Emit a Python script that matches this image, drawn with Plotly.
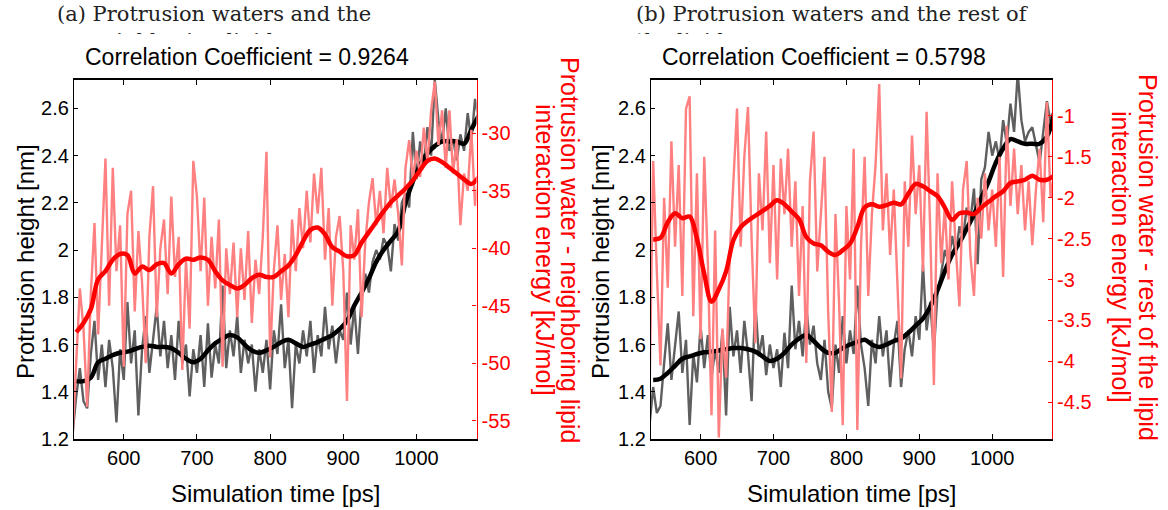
import plotly.graph_objects as go

# ---------------- data ----------------
t_raw_start, t_raw_step = 530, 5
t_avg_start, t_avg_step = 535, 10

# (a) protrusion height, raw (nm)
a_height_raw = [1.22, 1.38, 1.50, 1.36, 1.33, 1.56, 1.70, 1.45, 1.60, 1.42, 1.62, 1.50, 1.27, 1.58, 1.45, 1.78,
                1.52, 1.66, 1.30, 1.58, 1.72, 1.48, 1.62, 1.76, 1.55, 1.70, 1.50, 1.64, 1.45, 1.70, 1.52, 1.60,
                1.38, 1.58, 1.48, 1.64, 1.42, 1.69, 1.46, 1.60, 1.52, 1.85, 1.50, 1.66, 1.55, 1.72, 1.48, 1.62,
                1.52, 1.60, 1.40, 1.58, 1.48, 1.62, 1.41, 1.66, 1.56, 1.77, 1.50, 1.62, 1.33, 1.60, 1.52, 1.66,
                1.55, 1.70, 1.48, 1.64, 1.55, 1.76, 1.58, 1.68, 1.52, 1.66, 1.62, 1.82, 1.60, 1.76, 1.56, 1.80,
                1.90, 1.82, 1.95, 2.00, 1.96, 2.05, 2.02, 1.91, 2.11, 2.04, 2.20, 2.24, 2.18, 2.50, 2.30, 2.46,
                2.36, 2.52, 2.40, 2.72, 2.55, 2.45, 2.60, 2.42, 2.47, 2.38, 2.49, 2.42, 2.58, 2.46, 2.64, 2.55]
# (a) protrusion height, running average (nm)
a_height_avg = [1.445, 1.445, 1.46, 1.525, 1.54, 1.555, 1.565, 1.57, 1.58, 1.59, 1.595, 1.59, 1.59, 1.585,
                1.565, 1.54, 1.525, 1.54, 1.575, 1.605, 1.625, 1.64, 1.63, 1.60, 1.575, 1.565, 1.575, 1.59,
                1.61, 1.62, 1.605, 1.59, 1.60, 1.61, 1.625, 1.64, 1.665, 1.70, 1.765, 1.82, 1.88, 1.95, 2.00,
                2.04, 2.08, 2.20, 2.29, 2.36, 2.41, 2.44, 2.46, 2.46, 2.46, 2.45, 2.51, 2.57]
# (a) interaction energy with neighbouring lipid, raw (kJ/mol)
a_energy_raw = [-56.5, -50.0, -43.5, -47.0, -53.8, -44.0, -37.8, -47.5, -40.0, -32.2, -45.0, -33.0, -42.0, -38.0,
                -50.3, -37.0, -35.0, -45.5, -38.5, -43.0, -50.0, -39.0, -34.6, -46.0, -40.0, -37.5, -44.0, -35.5,
                -42.5, -39.0, -50.6, -41.0, -47.0, -32.4, -35.5, -42.0, -35.6, -45.0, -39.0, -43.5, -37.5, -50.3,
                -40.0, -44.0, -39.5, -46.0, -40.0, -44.5, -38.5, -46.5, -41.0, -44.0, -39.0, -31.6, -49.5, -42.0,
                -38.0, -44.5, -40.5, -46.0, -37.5, -42.0, -36.5, -40.0, -35.0, -39.5, -33.5, -37.0, -33.0, -41.0,
                -36.5, -45.0, -39.0, -37.2, -42.0, -53.3, -38.0, -41.0, -36.6, -46.0, -39.5, -36.0, -33.9, -38.0,
                -35.0, -38.7, -33.0, -36.5, -34.0, -37.0, -41.5, -33.0, -30.6, -34.0, -31.5, -33.8, -29.5, -32.5,
                -28.0, -25.5, -31.0, -28.0, -33.0, -28.0, -33.5, -30.5, -38.0, -33.5, -35.0, -29.7, -36.3, -34.0]
# (a) interaction energy, running average (kJ/mol)
a_energy_avg = [-47.3, -46.5, -45.3, -42.7, -42.0, -41.0, -40.5, -40.6, -42.2, -41.6, -41.9, -41.4, -41.3, -42.2,
                -41.4, -40.9, -41.0, -40.8, -41.0, -42.0, -42.8, -43.2, -43.5, -43.2, -42.6, -42.3, -42.5, -42.5,
                -42.0, -41.5, -40.6, -39.4, -38.4, -38.2, -38.8, -39.9, -40.3, -40.7, -40.6, -39.5, -38.6, -37.7,
                -36.8, -36.0, -35.4, -34.8, -34.1, -33.2, -32.4, -32.2, -32.5, -33.0, -33.5, -34.0, -34.4, -33.8]

# (b) protrusion height, raw (nm)
b_height_raw = [1.26, 1.42, 1.31, 1.34, 1.52, 1.69, 1.45, 1.60, 1.74, 1.48, 1.62, 1.26, 1.56, 1.44, 1.68, 1.50,
                1.64, 1.46, 1.58, 1.48, 1.66, 1.30, 1.76, 1.55, 1.66, 1.48, 1.70, 1.56, 1.36, 1.78, 1.55, 1.64,
                1.47, 1.60, 1.50, 1.58, 1.42, 1.65, 1.50, 1.85, 1.58, 1.70, 1.55, 1.76, 1.60, 1.68, 1.52, 1.45,
                1.62, 1.40, 1.33, 1.60, 1.48, 1.72, 1.52, 1.66, 1.56, 1.85, 1.60, 1.50, 1.34, 1.62, 1.52, 1.72,
                1.55, 1.66, 1.42, 1.60, 1.70, 1.42, 1.58, 1.66, 1.55, 1.72, 1.62, 1.94, 1.66, 1.78, 1.57, 1.82,
                1.90, 2.00, 1.95, 2.06, 1.98, 2.10, 2.05, 2.18, 2.12, 2.26, 1.94, 2.30, 2.35, 2.50, 2.40, 2.46,
                2.38, 2.55, 2.45, 2.62, 2.50, 2.75, 2.55, 2.46, 2.50, 2.52, 2.44, 2.37, 2.50, 2.63, 2.54, 2.60]
b_height_avg = [1.45, 1.455, 1.48, 1.51, 1.54, 1.55, 1.56, 1.567, 1.57, 1.575, 1.58, 1.585, 1.585, 1.58, 1.57,
                1.55, 1.53, 1.54, 1.565, 1.60, 1.625, 1.64, 1.615, 1.585, 1.565, 1.565, 1.585, 1.60, 1.61, 1.62,
                1.60, 1.59, 1.60, 1.615, 1.625, 1.65, 1.68, 1.71, 1.76, 1.83, 1.91, 1.98, 2.03, 2.09, 2.15, 2.22,
                2.29, 2.37, 2.43, 2.47, 2.46, 2.45, 2.45, 2.45, 2.48, 2.58]
# (b) interaction energy with the rest of the lipid, raw (kJ/mol)
b_energy_raw = [-4.40, -1.55, -2.90, -4.05, -2.00, -3.10, -1.31, -2.60, -1.60, -3.20, -0.91, -0.76, -3.45, -1.70,
                -3.73, -1.50, -2.80, -4.66, -2.40, -4.93, -3.60, -4.20, -2.70, -1.80, -0.91, -2.60, -1.50, -0.89,
                -2.50, -3.78, -1.70, -2.40, -1.19, -2.80, -1.60, -3.00, -1.52, -2.20, -1.40, -2.60, -1.80, -3.20,
                -2.10, -4.02, -1.80, -1.19, -2.90, -2.20, -1.50, -3.40, -4.62, -2.20, -3.30, -4.78, -2.10, -3.00,
                -1.40, -4.84, -2.60, -1.50, -3.20, -2.20, -1.60, -0.61, -2.40, -1.70, -2.70, -1.90, -3.10, -4.21,
                -1.80, -2.60, -1.24, -2.20, -1.60, -2.90, -0.95, -2.40, -4.29, -1.70, -2.80, -2.10, -3.00, -1.80,
                -2.60, -3.33, -1.90, -1.55, -2.70, -3.20, -2.00, -2.50, -1.70, -2.40, -1.90, -2.60, -1.50, -2.97,
                -1.12, -2.10, -1.40, -2.20, -1.60, -2.40, -1.80, -2.58, -1.90, -1.40, -2.30, -0.83, -2.00, -1.70]
b_energy_avg = [-2.51, -2.49, -2.30, -2.19, -2.25, -2.23, -2.50, -2.93, -3.27, -3.12, -2.90, -2.52, -2.36, -2.28,
                -2.22, -2.16, -2.10, -2.03, -2.08, -2.17, -2.26, -2.48, -2.56, -2.58, -2.66, -2.70, -2.64, -2.56,
                -2.36, -2.12, -2.08, -2.11, -2.09, -2.06, -2.08, -1.95, -1.83, -1.86, -1.92, -1.98, -2.12, -2.27,
                -2.19, -2.18, -2.20, -2.12, -2.05, -1.98, -1.92, -1.82, -1.80, -1.78, -1.73, -1.78, -1.78, -1.73]

x_ticks = [600, 700, 800, 900, 1000]
h_ticks = [1.2, 1.4, 1.6, 1.8, 2.0, 2.2, 2.4, 2.6]
h_ticktext = ["1.2", "1.4", "1.6", "1.8", "2", "2.2", "2.4", "2.6"]
a_e_ticks = [-55, -50, -45, -40, -35, -30]
a_e_ticktext = ["-55", "-50", "-45", "-40", "-35", "-30"]
b_e_ticks = [-4.5, -4, -3.5, -3, -2.5, -2, -1.5, -1]
b_e_ticktext = ["-4.5", "-4", "-3.5", "-3", "-2.5", "-2", "-1.5", "-1"]

corr_a = "Correlation Coefficient = 0.9264"
corr_b = "Correlation Coefficient = 0.5798"

# ---------------- figure ----------------
W, H = 1168, 510
def px(x): return x / W
def py(y): return 1 - y / H

t_raw = [t_raw_start + i * t_raw_step for i in range(len(a_height_raw))]
t_avg = [t_avg_start + i * t_avg_step for i in range(len(a_height_avg))]

GRAY, BLACK, PINK, RED = "#5f5f5f", "#000000", "#ff8080", "#ff0000"
SANS = "Liberation Sans, Arial, sans-serif"

fig = go.Figure()
for xa, ya_h, ya_e, hr, ha, er, ea in [
    ("x", "y", "y2", a_height_raw, a_height_avg, a_energy_raw, a_energy_avg),
    ("x2", "y3", "y4", b_height_raw, b_height_avg, b_energy_raw, b_energy_avg),
]:
    fig.add_trace(go.Scatter(x=t_raw, y=hr, xaxis=xa, yaxis=ya_h, mode="lines",
                             line=dict(color=GRAY, width=2.4), showlegend=False, hoverinfo="skip"))
    fig.add_trace(go.Scatter(x=t_avg, y=ha, xaxis=xa, yaxis=ya_h, mode="lines",
                             line=dict(color=BLACK, width=4.5, shape="spline"), showlegend=False, hoverinfo="skip"))
    fig.add_trace(go.Scatter(x=t_raw, y=er, xaxis=xa, yaxis=ya_e, mode="lines",
                             line=dict(color=PINK, width=2.4), showlegend=False, hoverinfo="skip"))
    fig.add_trace(go.Scatter(x=t_avg, y=ea, xaxis=xa, yaxis=ya_e, mode="lines",
                             line=dict(color=RED, width=4.5, shape="spline"), showlegend=False, hoverinfo="skip"))

tickfont = dict(family=SANS, size=20, color="black")
red_tickfont = dict(family=SANS, size=20, color=RED)

def xaxis_cfg(dom):
    return dict(domain=dom, range=[532, 1082], tickmode="array", tickvals=x_ticks,
                ticks="inside", ticklen=5, tickwidth=1, tickcolor="black", mirror="ticks",
                showline=True, linecolor="black", linewidth=2, showgrid=False, zeroline=False,
                tickfont=tickfont, automargin=False, fixedrange=True)

def hax_cfg(anchor):
    return dict(domain=[py(439), py(80)], range=[1.2, 2.72], anchor=anchor, tickmode="array",
                tickvals=h_ticks, ticktext=h_ticktext, ticks="inside", ticklen=4, tickwidth=1,
                tickcolor="black", showline=True, linecolor="black", linewidth=1.2, showgrid=False,
                zeroline=False, tickfont=tickfont, automargin=False)

def eax_cfg(anchor, overlay, rng, tv, tt):
    return dict(range=rng, anchor=anchor, overlaying=overlay, side="right", tickmode="array",
                tickvals=tv, ticktext=tt, ticks="inside", ticklen=4, tickwidth=1, tickcolor=RED,
                showline=True, linecolor=RED, linewidth=1.2, showgrid=False, zeroline=False,
                tickfont=red_tickfont, automargin=False)

fig.update_layout(
    width=W, height=H, template="none",
    margin=dict(l=0, r=0, t=0, b=0), paper_bgcolor="white", plot_bgcolor="rgba(0,0,0,0)",
    showlegend=False,
    xaxis=xaxis_cfg([px(74), px(476.5)]),
    xaxis2=dict(xaxis_cfg([px(651), px(1052)]), anchor="y3"),
    yaxis=hax_cfg("x"),
    yaxis2=eax_cfg("x", "y", [-56.6, -25.36], a_e_ticks, a_e_ticktext),
    yaxis3=hax_cfg("x2"),
    yaxis4=eax_cfg("x2", "y3", [-4.95, -0.56], b_e_ticks, b_e_ticktext),
)
fig.layout.xaxis.anchor = "y"

ann = []
def add(text, x, y, size=24, color="black", angle=0, family=SANS):
    ann.append(dict(text=text, x=px(x), y=py(y), xref="paper", yref="paper", showarrow=False,
                    xanchor="center", yanchor="middle",
                    textangle=angle, font=dict(family=family, size=size, color=color)))

SERIF = "DejaVu Serif, Liberation Serif, serif"
# sub-captions (second line clipped as in the original)
ann.append(dict(text="(a) Protrusion waters and the<br>&nbsp;&nbsp;&nbsp;&nbsp;&nbsp;neighboring lipids",
                x=px(55), y=1, xref="paper", yref="paper", xanchor="left", yanchor="top",
                align="left", valign="top", height=32, showarrow=False,
                font=dict(family=SERIF, size=21, color="#222")))
ann.append(dict(text="(b) Protrusion waters and the rest of<br>the lipids",
                x=px(634), y=1, xref="paper", yref="paper", xanchor="left", yanchor="top",
                align="left", valign="top", height=32, showarrow=False,
                font=dict(family=SERIF, size=21, color="#222")))

add(corr_a, 247, 57, size=23)
add(corr_b, 824, 57, size=23)
add("Protrusion height [nm]", 25, 262, angle=-90)
add("Protrusion height [nm]", 600, 262, angle=-90)
add("Simulation time [ps]", 275, 493)
add("Simulation time [ps]", 851, 493)
add("Protrusion water - neighboring lipid", 570, 250, size=25, color=RED, angle=90)
add("interaction energy [kJ/mol]", 545, 250, size=25, color=RED, angle=90)
add("Protrusion water - rest of the lipid", 1148, 257, size=25, color=RED, angle=90)
add("interaction energy [kJ/mol]", 1121, 257, size=25, color=RED, angle=90)
fig.update_layout(annotations=ann)

fig.write_html("out.html", config={"displayModeBar": False})
